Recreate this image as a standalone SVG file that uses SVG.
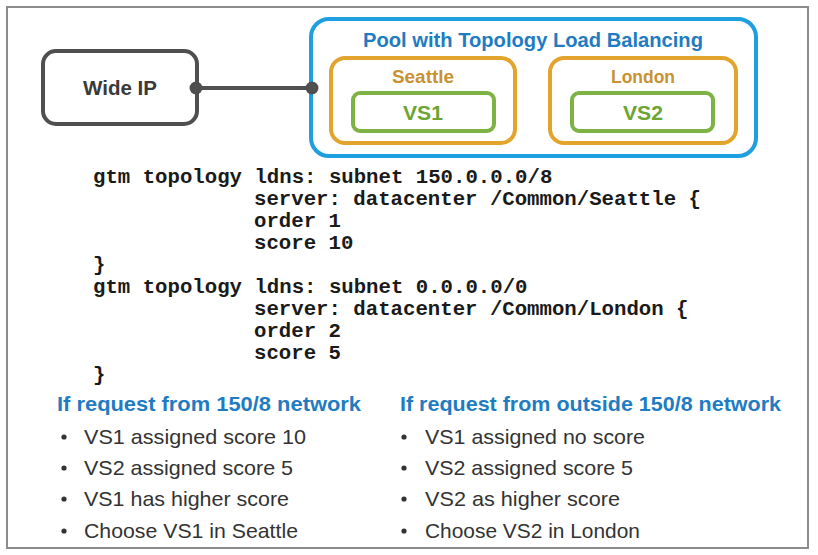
<svg xmlns="http://www.w3.org/2000/svg" width="818" height="555" viewBox="0 0 818 555">
<style>
.frame{fill:#fff;stroke:#8c8c8c;stroke-width:2}
.wide{fill:#fff;stroke:#4f4f4f;stroke-width:4}
.pool{fill:#fff;stroke:#1ea0e0;stroke-width:4}
.dc{fill:#fff;stroke:#e2a42c;stroke-width:4}
.vs{fill:#fff;stroke:#7db344;stroke-width:4}
.conn{stroke:#4f4f4f;stroke-width:4;fill:none}
.dot{fill:#4f4f4f}
.t{font-family:"Liberation Sans","Open Sans",sans-serif;text-anchor:middle}
.tw{font-size:20px;font-weight:bold;fill:#3a3a3a}
.tp{font-size:20px;font-weight:bold;fill:#1f7cc2}
.td{font-size:18px;font-weight:bold;fill:#c99131}
.tv{font-size:20px;font-weight:bold;fill:#6ba534}
.code{font-family:"Liberation Mono","DejaVu Sans Mono",monospace;font-size:20.7px;font-weight:bold;fill:#1a1a1a;white-space:pre}
.h{font-family:"Liberation Sans","Open Sans",sans-serif;font-size:21px;font-weight:bold;fill:#1f7cc2}
.b{font-family:"Liberation Sans","Open Sans",sans-serif;font-size:21px;fill:#333}
.bd{fill:#333}
</style>
<rect class="frame" x="7" y="7" width="801" height="541"/>
<g id="connectors">
<line class="conn" x1="196" y1="88" x2="312" y2="88"/>
</g>
<g id="wide-ip">
<rect class="wide" x="43" y="51" width="154" height="73" rx="13"/>
<text class="t tw" x="120" y="95" textLength="74" lengthAdjust="spacingAndGlyphs">Wide IP</text>
</g>
<g id="pool">
<rect class="pool" x="311" y="19" width="445" height="137" rx="18"/>
<text class="t tp" x="533" y="47" textLength="340" lengthAdjust="spacingAndGlyphs">Pool with Topology Load Balancing</text>
</g>
<g id="seattle">
<rect class="dc" x="331" y="58" width="184" height="85" rx="14"/>
<text class="t td" x="423" y="83" textLength="62" lengthAdjust="spacingAndGlyphs">Seattle</text>
</g>
<g id="vs1">
<rect class="vs" x="353" y="93" width="141" height="38" rx="7"/>
<text class="t tv" x="423" y="120" textLength="40" lengthAdjust="spacingAndGlyphs">VS1</text>
</g>
<g id="london">
<rect class="dc" x="550" y="58" width="186" height="85" rx="14"/>
<text class="t td" x="643" y="83" textLength="64" lengthAdjust="spacingAndGlyphs">London</text>
</g>
<g id="vs2">
<rect class="vs" x="572" y="93" width="141" height="38" rx="7"/>
<text class="t tv" x="643" y="120" textLength="40" lengthAdjust="spacingAndGlyphs">VS2</text>
</g>
<g id="connector-dots">
<circle class="dot" cx="196" cy="88" r="6.5"/>
<circle class="dot" cx="312" cy="88" r="6.5"/>
</g>
<g id="code">
<text class="code" x="93" y="183">gtm topology ldns: subnet 150.0.0.0/8</text>
<text class="code" x="254" y="205">server: datacenter /Common/Seattle {</text>
<text class="code" x="254" y="227">order 1</text>
<text class="code" x="254" y="249">score 10</text>
<text class="code" x="93" y="271">}</text>
<text class="code" x="93" y="293">gtm topology ldns: subnet 0.0.0.0/0</text>
<text class="code" x="254" y="315">server: datacenter /Common/London {</text>
<text class="code" x="254" y="337">order 2</text>
<text class="code" x="254" y="359">score 5</text>
<text class="code" x="93" y="381">}</text>
</g>
<g id="left-list">
<text class="h" x="57" y="411" textLength="304" lengthAdjust="spacingAndGlyphs">If request from 150/8 network</text>
<circle class="bd" cx="64" cy="437" r="2.6"/>
<text class="b" x="84" y="444" textLength="222" lengthAdjust="spacingAndGlyphs">VS1 assigned score 10</text>
<circle class="bd" cx="64" cy="468" r="2.6"/>
<text class="b" x="84" y="475" textLength="209" lengthAdjust="spacingAndGlyphs">VS2 assigned score 5</text>
<circle class="bd" cx="64" cy="499" r="2.6"/>
<text class="b" x="84" y="506" textLength="205" lengthAdjust="spacingAndGlyphs">VS1 has higher score</text>
<circle class="bd" cx="64" cy="531" r="2.6"/>
<text class="b" x="84" y="538" textLength="214" lengthAdjust="spacingAndGlyphs">Choose VS1 in Seattle</text>
</g>
<g id="right-list">
<text class="h" x="400" y="411" textLength="381" lengthAdjust="spacingAndGlyphs">If request from outside 150/8 network</text>
<circle class="bd" cx="404" cy="437" r="2.6"/>
<text class="b" x="425" y="444" textLength="220" lengthAdjust="spacingAndGlyphs">VS1 assigned no score</text>
<circle class="bd" cx="404" cy="468" r="2.6"/>
<text class="b" x="425" y="475" textLength="208" lengthAdjust="spacingAndGlyphs">VS2 assigned score 5</text>
<circle class="bd" cx="404" cy="499" r="2.6"/>
<text class="b" x="425" y="506" textLength="195" lengthAdjust="spacingAndGlyphs">VS2 as higher score</text>
<circle class="bd" cx="404" cy="531" r="2.6"/>
<text class="b" x="425" y="538" textLength="215" lengthAdjust="spacingAndGlyphs">Choose VS2 in London</text>
</g>
</svg>
